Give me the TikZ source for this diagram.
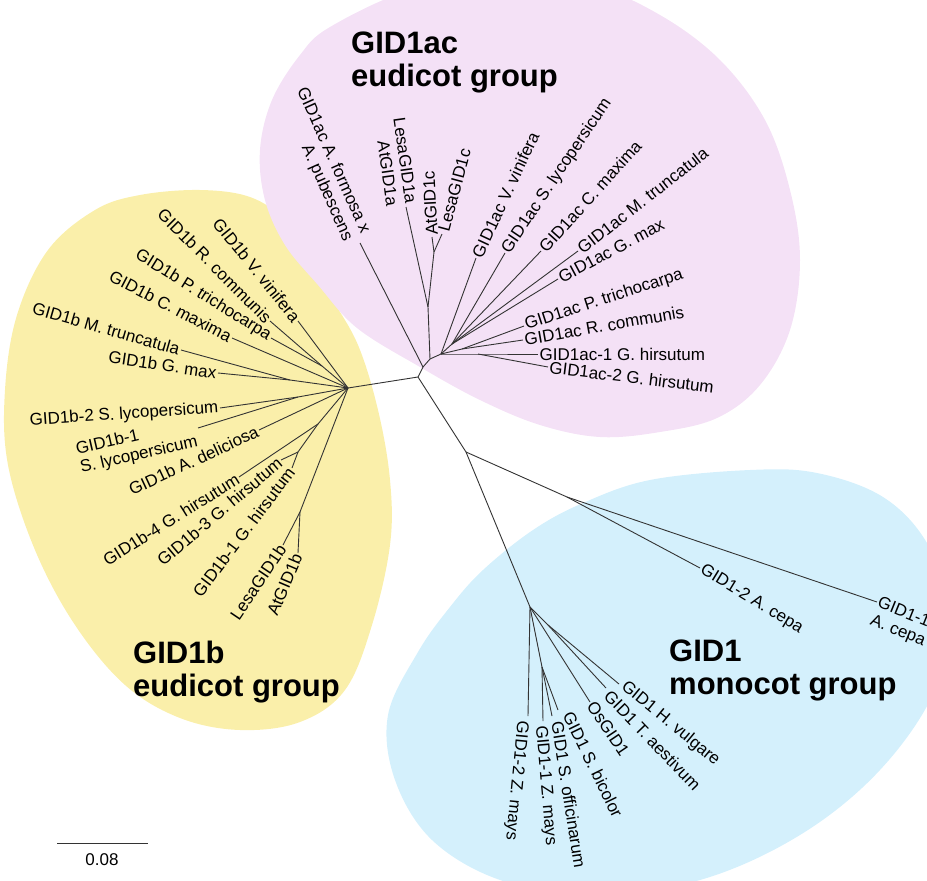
\documentclass[tikz,border=0pt]{standalone}
\usepackage{fontspec}
\setmainfont{Liberation Sans}
\definecolor{pinkbg}{RGB}{244,225,246}
\definecolor{yelbg}{RGB}{250,239,170}
\definecolor{bluebg}{RGB}{212,240,252}
\begin{document}
\begin{tikzpicture}[x=1pt,y=-1pt,
  br/.style={line width=0.9pt,draw=black!80},
  lab/.style={font=\fontsize{17}{19}\selectfont,inner sep=1.5pt},
  labw/.style={lab,anchor=west},
  labe/.style={lab,anchor=east},
  ttl/.style={font=\fontsize{31}{33}\selectfont\bfseries,align=left,anchor=north west,inner sep=0pt}]
\useasboundingbox (0,0) rectangle (927,881);
% background groups
\fill[yelbg] plot[smooth cycle,tension=0.6] coordinates {(200,190) (250,197) (285,220) (310,255) (330,295) (358,345) (378,410) (390,480) (390,545) (372,625) (345,690) (300,722) (240,730) (180,718) (125,685) (75,625) (35,550) (8,465) (5,390) (17,315) (48,250) (95,210) (140,195)};
\fill[pinkbg] plot[smooth cycle,tension=0.6] coordinates {(330,27) (300,55) (272,100) (260,150) (265,200) (285,245) (318,285) (357,328) (420,367) (480,400) (540,425) (600,437) (660,432) (717,418) (760,385) (790,330) (800,260) (790,190) (765,120) (720,60) (660,15) (590,-15) (500,-25) (410,-10)};
\fill[bluebg] plot[smooth cycle,tension=0.6] coordinates {(450,607) (483,570) (533,530) (583,503) (650,480) (750,470) (817,473) (883,497) (927,543) (950,610) (935,690) (880,770) (800,835) (700,880) (590,895) (500,880) (432,840) (395,780) (388,715) (418,652)};
% tree coordinates
\coordinate (A) at (418,377);
\coordinate (Yh) at (348,388);
\coordinate (P0) at (423,367);
\coordinate (P1) at (430,359);
\coordinate (P2) at (428,307);
\coordinate (P3) at (434,252);
\coordinate (P4) at (441,354);
\coordinate (P5) at (452,344);
\coordinate (P6) at (462,349);
\coordinate (P7) at (478,354);
\coordinate (lAf) at (360,243);
\coordinate (lLa) at (406,207);
\coordinate (lAc) at (432,237);
\coordinate (lLc) at (442,234);
\coordinate (lVv) at (476,258);
\coordinate (lSl) at (505,253);
\coordinate (lCm) at (541,251);
\coordinate (lMt) at (578,251);
\coordinate (lGm) at (558,279);
\coordinate (lPt) at (524,326);
\coordinate (lRc) at (523,340);
\coordinate (lH1) at (538,354);
\coordinate (lH2) at (548,367);
% yellow
\coordinate (Yrp) at (322,366);
\coordinate (Ymg) at (290,380);
\coordinate (Ys) at (298,397);
\coordinate (Yh4) at (318,424);
\coordinate (Yh3) at (298,452);
\coordinate (Yla) at (300,512);
\coordinate (yVv) at (298,321);
\coordinate (yRc) at (270,321);
\coordinate (yPt) at (271,338);
\coordinate (yCm) at (232,338);
\coordinate (yMt) at (181,350);
\coordinate (yGm) at (218,373);
\coordinate (yS2) at (220,408);
\coordinate (yS1) at (198,428);
\coordinate (yAd) at (259,430);
\coordinate (yH4) at (239,477);
\coordinate (yH3) at (281,460);
\coordinate (yH1) at (292,468);
\coordinate (yLe) at (283,545);
\coordinate (yAt) at (298,553);
% blue
\coordinate (M1) at (466,452);
\coordinate (O) at (567,497);
\coordinate (M2) at (530,607);
\coordinate (Nz) at (542,667);
\coordinate (Nt) at (548,625);
\coordinate (bA2) at (700,568);
\coordinate (bA1) at (877,602);
\coordinate (bHv) at (619,684);
\coordinate (bTa) at (606,688);
\coordinate (bOs) at (590,702);
\coordinate (bSb) at (558,710);
\coordinate (bSo) at (552,716);
\coordinate (bZ1) at (543,721);
\coordinate (bZ2) at (528,716);
% branches
\draw[br] (Yh) -- (A) -- (P0);
\draw[br] (A) -- (M1);
\draw[br] (P0) -- (lAf);
\draw[br] (P0) -- (P1) -- (P2) -- (lLa);
\draw[br] (P2) -- (P3) -- (lAc);
\draw[br] (P3) -- (lLc);
\draw[br] (P1) -- (P4) -- (lVv);
\draw[br] (P4) -- (P5) -- (lSl);
\draw[br] (P5) -- (lCm);
\draw[br] (P5) -- (lMt);
\draw[br] (P5) -- (lGm);
\draw[br] (P4) -- (P6) -- (lPt);
\draw[br] (P6) -- (lRc);
\draw[br] (P4) -- (P7) -- (lH1);
\draw[br] (P7) -- (lH2);
\draw[br] (Yh) -- (yVv);
\draw[br] (Yh) -- (Yrp) -- (yRc);
\draw[br] (Yrp) -- (yPt);
\draw[br] (Yh) -- (yCm);
\draw[br] (Yh) -- (Ymg) -- (yMt);
\draw[br] (Ymg) -- (yGm);
\draw[br] (Yh) -- (Ys) -- (yS2);
\draw[br] (Ys) -- (yS1);
\draw[br] (Yh) -- (yAd);
\draw[br] (Yh) -- (Yh4) -- (yH4);
\draw[br] (Yh4) -- (Yh3) -- (yH3);
\draw[br] (Yh3) -- (yH1);
\draw[br] (Yh) -- (Yla) -- (yLe);
\draw[br] (Yla) -- (yAt);
\draw[br] (M1) -- (O) -- (bA2);
\draw[br] (O) -- (bA1);
\draw[br] (M1) -- (M2) -- (bZ2);
\draw[br] (M2) -- (Nz) -- (bZ1);
\draw[br] (Nz) -- (bSo);
\draw[br] (Nz) -- (bSb);
\draw[br] (M2) -- (bOs);
\draw[br] (M2) -- (Nt) -- (bTa);
\draw[br] (Nt) -- (bHv);
% pink labels
\node[labe,rotate=-66,align=right] (tAf) at (357,238) {GID1ac A. formosa x\\A. pubescens};
\node[labe,rotate=-82,align=right] (tLa) at (402,206) {LesaGID1a\\AtGID1a};
\node[labw,rotate=93] (tAc) at (lAc) {AtGID1c};
\node[labw,rotate=75] (tLc) at (443,233) {LesaGID1c};
\node[labw,rotate=65] (tVv) at (lVv) {GID1ac V. vinifera};
\node[labw,rotate=56] (tSl) at (lSl) {GID1ac S. lycopersicum};
\node[labw,rotate=48] (tCm) at (lCm) {GID1ac C. maxima};
\node[labw,rotate=38] (tMt) at (lMt) {GID1ac M. truncatula};
\node[labw,rotate=28] (tGm) at (lGm) {GID1ac G. max};
\node[labw,rotate=18] (tPt) at (lPt) {GID1ac P. trichocarpa};
\node[labw,rotate=10] (tRc) at (lRc) {GID1ac R. communis};
\node[labw] (tH1) at (lH1) {GID1ac-1 G. hirsutum};
\node[labw,rotate=-7] (tH2) at (lH2) {GID1ac-2 G. hirsutum};
% yellow labels
\node[labe,rotate=-51] (sVv) at (yVv) {GID1b V. vinifera};
\node[labe,rotate=-45] (sRc) at (yRc) {GID1b R. communis};
\node[labe,rotate=-32] (sPt) at (yPt) {GID1b P. trichocarpa};
\node[labe,rotate=-27.5] (sCm) at (yCm) {GID1b C. maxima};
\node[labe,rotate=-16] (sMt) at (yMt) {GID1b M. truncatula};
\node[labe,rotate=-8.5] (sGm) at (yGm) {GID1b G. max};
\node[labe,rotate=4] (sS2) at (yS2) {GID1b-2 S. lycopersicum};
\node[labe,rotate=13,align=left] (sS1) at (197,432) {GID1b-1\\S. lycopersicum};
\node[labe,rotate=25] (sAd) at (yAd) {GID1b A. deliciosa};
\node[labe,rotate=32] (sH4) at (yH4) {GID1b-4 G. hirsutum};
\node[labe,rotate=40] (sH3) at (yH3) {GID1b-3 G. hirsutum};
\node[labe,rotate=53] (sH1) at (yH1) {GID1b-1 G. hirsutum};
\node[labe,rotate=56] (sLe) at (yLe) {LesaGID1b};
\node[labe,rotate=67] (sAt) at (yAt) {AtGID1b};
% blue labels
\node[labw,rotate=-31.5] (cA2) at (bA2) {GID1-2 A. cepa};
\node[labw,rotate=-22,align=left] (cA1) at (873,611) {GID1-1\\A. cepa};
\node[labw,rotate=-39.5] (cHv) at (622,684) {GID1 H. vulgare};
\node[labw,rotate=-46] (cTa) at (606,692) {GID1 T. aestivum};
\node[labw,rotate=-56] (cOs) at (bOs) {OsGID1};
\node[labw,rotate=-64] (cSb) at (567,711) {GID1 S. bicolor};
\node[labw,rotate=-81] (cSo) at (557,720) {GID1 S. officinarum};
\node[labw,rotate=-85] (cZ1) at (540,724) {GID1-1 Z. mays};
\node[labw,rotate=-95.5] (cZ2) at (522,719) {GID1-2 Z. mays};
% titles
\node[ttl] (titP) at (351,32) {GID1ac\\eudicot group};
\node[ttl] (titY) at (133,641) {GID1b\\eudicot group};
\node[ttl] (titB) at (669,640) {GID1\\monocot group};
% scale bar
\coordinate (s1) at (57,843);
\coordinate (s2) at (148,843);
\draw[br] (s1) -- (s2);
\node[lab] (scl) at (102,860) {0.08};
\end{tikzpicture}
\end{document}
